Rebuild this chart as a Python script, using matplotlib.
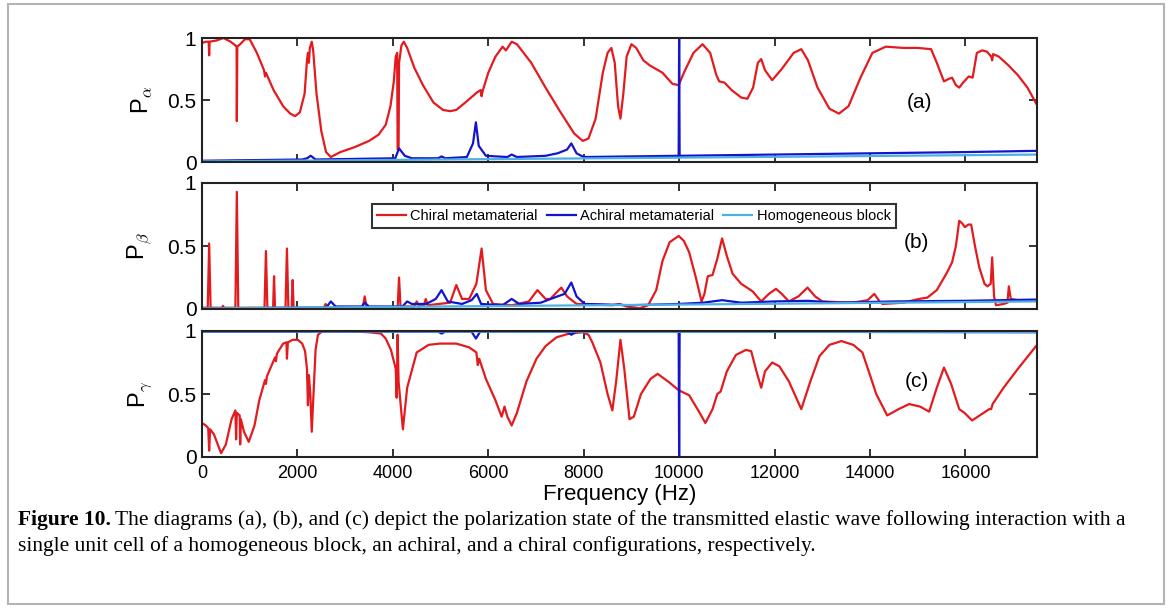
import numpy as np
import matplotlib.pyplot as plt
from matplotlib.patches import Rectangle

plt.rcParams["font.family"] = ["Liberation Sans", "DejaVu Sans"]
plt.rcParams["mathtext.fontset"] = "cm"

# ---- panel (a): P_alpha ----
chiral_a_f = [0, 80, 140, 150, 160, 300, 450, 600, 700, 725,
              730, 740, 800, 900, 1000, 1150, 1300, 1320, 1340, 1500,
              1700, 1850, 1950, 2050, 2150, 2200, 2220, 2240, 2260, 2300,
              2330, 2400, 2500, 2600, 2700, 2900, 3200, 3500, 3700, 3850,
              3950, 4020, 4060, 4090, 4100, 4120, 4130, 4180, 4230, 4300,
              4450, 4630, 4850, 5050, 5200, 5330, 5550, 5760, 5840, 5860,
              5880, 6000, 6150, 6300, 6370, 6490, 6600, 6900, 7200, 7500,
              7800, 7980, 8100, 8250, 8400, 8500, 8580, 8650, 8720, 8770,
              8830, 8900, 9000, 9100, 9250, 9380, 9650, 9860, 9990, 10100,
              10300, 10490, 10650, 10780, 10840, 10950, 11100, 11300, 11430, 11550,
              11650, 11720, 11800, 11950, 12150, 12400, 12560, 12700, 12900, 13150,
              13350, 13550, 13800, 14050, 14330, 14700, 15000, 15280, 15400, 15550,
              15650, 15720, 15800, 15870, 15950, 16070, 16150, 16240, 16350, 16450,
              16540, 16560, 16580, 16700, 16900, 17100, 17300, 17500]
chiral_a_v = [0.96, 0.97, 0.97, 0.86, 0.97, 0.98, 1.0, 0.97, 0.94, 0.93,
              0.33, 0.93, 0.95, 0.99, 0.99, 0.88, 0.74, 0.69, 0.72, 0.58,
              0.45, 0.39, 0.37, 0.40, 0.55, 0.82, 0.88, 0.80, 0.92, 0.97,
              0.90, 0.55, 0.25, 0.08, 0.04, 0.08, 0.12, 0.17, 0.22, 0.30,
              0.45, 0.65, 0.85, 0.88, 0.10, 0.10, 0.80, 0.94, 0.97, 0.92,
              0.76, 0.62, 0.48, 0.42, 0.41, 0.42, 0.49, 0.56, 0.58, 0.53,
              0.57, 0.72, 0.85, 0.93, 0.90, 0.97, 0.95, 0.80, 0.60, 0.41,
              0.23, 0.17, 0.19, 0.35, 0.72, 0.88, 0.92, 0.80, 0.45, 0.35,
              0.55, 0.85, 0.95, 0.92, 0.82, 0.78, 0.72, 0.63, 0.62, 0.72,
              0.88, 0.95, 0.88, 0.70, 0.65, 0.64, 0.58, 0.52, 0.51, 0.60,
              0.80, 0.83, 0.74, 0.66, 0.75, 0.88, 0.91, 0.82, 0.60, 0.43,
              0.39, 0.45, 0.68, 0.88, 0.93, 0.92, 0.92, 0.91, 0.80, 0.65,
              0.67, 0.68, 0.62, 0.60, 0.64, 0.69, 0.68, 0.88, 0.90, 0.89,
              0.85, 0.82, 0.87, 0.85, 0.78, 0.70, 0.60, 0.46]

achiral_a_f = [0, 2100, 2200, 2280, 2380, 4050, 4130, 4250, 4400, 4950,
               5020, 5100, 5550, 5680, 5740, 5800, 5950, 6400, 6490, 6600,
               7200, 7450, 7650, 7740, 7850, 8000, 9990, 10000, 10010, 12000,
               14000, 16000, 17500]
achiral_a_v = [0.01, 0.02, 0.03, 0.05, 0.02, 0.03, 0.11, 0.05, 0.03, 0.03,
               0.045, 0.03, 0.04, 0.15, 0.32, 0.13, 0.05, 0.04, 0.06, 0.04,
               0.05, 0.07, 0.10, 0.15, 0.07, 0.04, 0.05, 1.0, 0.05, 0.06,
               0.07, 0.08, 0.09]

homog_a_f = [0, 5000, 10000, 17500]
homog_a_v = [0.005, 0.02, 0.035, 0.06]

# ---- panel (b): P_beta ----
chiral_b_f = [0, 120, 150, 180, 420, 440, 460, 700, 730, 760,
              1310, 1340, 1370, 1490, 1510, 1530, 1750, 1780, 1810, 1880,
              1900, 1920, 2550, 2590, 2630, 3370, 3410, 3450, 4100, 4130,
              4160, 4450, 4500, 4550, 4650, 4690, 4730, 5200, 5330, 5450,
              5600, 5750, 5860, 5950, 6100, 6500, 6850, 7030, 7200, 7300,
              7530, 7650, 7850, 8600, 8750, 8900, 9170, 9350, 9520, 9650,
              9800, 9990, 10100, 10210, 10350, 10470, 10530, 10600, 10700, 10800,
              10900, 11000, 11120, 11300, 11540, 11720, 11880, 12030, 12150, 12300,
              12500, 12690, 12850, 13000, 13630, 13950, 14090, 14200, 14260, 14700,
              15030, 15200, 15400, 15600, 15720, 15800, 15870, 15930, 15990, 16060,
              16120, 16200, 16290, 16400, 16460, 16530, 16560, 16600, 16640, 16800,
              16880, 16910, 16950, 17100, 17500]
chiral_b_v = [0.01, 0.01, 0.52, 0.01, 0.01, 0.025, 0.01, 0.01, 0.93, 0.01,
              0.01, 0.46, 0.01, 0.01, 0.26, 0.01, 0.01, 0.48, 0.01, 0.01,
              0.23, 0.01, 0.01, 0.04, 0.01, 0.01, 0.10, 0.01, 0.01, 0.25,
              0.02, 0.02, 0.06, 0.02, 0.03, 0.08, 0.03, 0.05, 0.19, 0.08,
              0.08, 0.20, 0.48, 0.15, 0.04, 0.03, 0.06, 0.15, 0.08, 0.08,
              0.17, 0.10, 0.04, 0.03, 0.04, 0.02, 0.005, 0.03, 0.15, 0.38,
              0.53, 0.58, 0.54, 0.45, 0.25, 0.06, 0.12, 0.26, 0.27, 0.40,
              0.56, 0.42, 0.28, 0.20, 0.14, 0.06, 0.12, 0.16, 0.12, 0.06,
              0.10, 0.17, 0.10, 0.06, 0.05, 0.07, 0.12, 0.06, 0.04, 0.05,
              0.08, 0.09, 0.15, 0.28, 0.37, 0.50, 0.70, 0.68, 0.65, 0.67,
              0.67, 0.50, 0.33, 0.20, 0.18, 0.20, 0.41, 0.10, 0.03, 0.04,
              0.05, 0.18, 0.08, 0.07, 0.07]

achiral_b_f = [0, 2600, 2700, 2800, 3350, 3410, 3500, 4200, 4300, 4400,
               4700, 4900, 5020, 5150, 5450, 5650, 5760, 5850, 6300, 6490,
               6650, 7100, 7450, 7600, 7740, 7850, 8020, 9000, 9990, 10500,
               10900, 11300, 12000, 12700, 13300, 14500, 16000, 17500]
achiral_b_v = [0.005, 0.01, 0.06, 0.02, 0.02, 0.05, 0.02, 0.02, 0.06, 0.04,
               0.04, 0.08, 0.15, 0.06, 0.04, 0.07, 0.12, 0.04, 0.03, 0.08,
               0.04, 0.05, 0.10, 0.12, 0.21, 0.10, 0.04, 0.03, 0.04, 0.05,
               0.07, 0.05, 0.06, 0.065, 0.05, 0.06, 0.065, 0.075]

homog_b_f = [0, 5000, 10000, 17500]
homog_b_v = [0.005, 0.02, 0.035, 0.06]

# ---- panel (c): P_gamma ----
chiral_c_f = [0, 80, 130, 150, 170, 250, 400, 500, 620, 700,
              715, 730, 790, 800, 815, 880, 980, 1100, 1200, 1320,
              1340, 1360, 1530, 1550, 1570, 1700, 1770, 1780, 1800, 1900,
              2010, 2100, 2160, 2200, 2220, 2240, 2270, 2300, 2330, 2380,
              2430, 2530, 3000, 3500, 3750, 3850, 3960, 4060, 4080, 4100,
              4120, 4210, 4300, 4500, 4750, 4980, 5330, 5600, 5750, 5780,
              5810, 5950, 6150, 6280, 6340, 6400, 6490, 6600, 6800, 7010,
              7200, 7430, 7700, 7980, 8100, 8180, 8350, 8500, 8600, 8680,
              8770, 8850, 8960, 9050, 9200, 9400, 9550, 9800, 9990, 10210,
              10400, 10550, 10700, 10800, 10870, 11000, 11190, 11400, 11510, 11620,
              11720, 11800, 11950, 12100, 12300, 12560, 12750, 12940, 13150, 13400,
              13650, 13840, 14000, 14130, 14360, 14600, 14820, 15050, 15240, 15400,
              15550, 15700, 15870, 15980, 16140, 16300, 16500, 16540, 16570, 16800,
              17100, 17480]
chiral_c_v = [0.27, 0.25, 0.23, 0.05, 0.22, 0.18, 0.03, 0.10, 0.30, 0.37,
              0.14, 0.35, 0.33, 0.10, 0.30, 0.20, 0.12, 0.25, 0.45, 0.61,
              0.58, 0.64, 0.79, 0.76, 0.82, 0.90, 0.91, 0.78, 0.91, 0.93,
              0.93, 0.90, 0.84, 0.70, 0.41, 0.65, 0.50, 0.20, 0.45, 0.85,
              0.97, 1.0, 1.0, 0.99, 0.98, 0.94, 0.85, 0.70, 0.47, 0.97,
              0.60, 0.22, 0.55, 0.83, 0.89, 0.90, 0.90, 0.87, 0.83, 0.73,
              0.78, 0.62, 0.45, 0.32, 0.40, 0.32, 0.25, 0.35, 0.60, 0.78,
              0.88, 0.95, 0.98, 0.99, 0.97, 0.91, 0.75, 0.50, 0.37, 0.60,
              0.93, 0.70, 0.30, 0.32, 0.50, 0.62, 0.66, 0.59, 0.53, 0.49,
              0.37, 0.27, 0.38, 0.50, 0.52, 0.68, 0.81, 0.85, 0.84, 0.68,
              0.55, 0.68, 0.75, 0.72, 0.60, 0.38, 0.60, 0.80, 0.89, 0.92,
              0.89, 0.83, 0.65, 0.50, 0.33, 0.38, 0.42, 0.40, 0.36, 0.55,
              0.71, 0.58, 0.38, 0.35, 0.29, 0.33, 0.38, 0.38, 0.42, 0.55,
              0.70, 0.88]

achiral_c_f = [0, 4950, 5020, 5100, 5650, 5740, 5830, 7650, 7740, 7850,
               9990, 10000, 10010, 17500]
achiral_c_v = [0.995, 0.995, 0.98, 0.995, 0.995, 0.94, 0.995, 0.995, 0.97, 0.995,
               0.995, 0.0, 0.995, 0.99]

homog_c_f = [0, 17500]
homog_c_v = [0.997, 0.993]

series_names = ["Chiral metamaterial", "Achiral metamaterial", "Homogeneous block"]
panel_tags = ["(a)", "(b)", "(c)"]
ylabels = [r"P$_{\alpha}$", r"P$_{\beta}$", r"P$_{\gamma}$"]
xticks = [0, 2000, 4000, 6000, 8000, 10000, 12000, 14000, 16000]

colors = ["#e31b1f", "#1414cc", "#4cb0e4"]

W, H = 1172, 608
fig = plt.figure(figsize=(W / 100, H / 100), dpi=100)

# panel boxes in pixels (left, top, right, bottom)
boxes = [(202, 38, 1037, 162), (202, 183, 1037, 309), (202, 331, 1037, 457)]
data = [
    [(chiral_a_f, chiral_a_v), (achiral_a_f, achiral_a_v), (homog_a_f, homog_a_v)],
    [(chiral_b_f, chiral_b_v), (achiral_b_f, achiral_b_v), (homog_b_f, homog_b_v)],
    [(chiral_c_f, chiral_c_v), (achiral_c_f, achiral_c_v), (homog_c_f, homog_c_v)],
]
tag_pos = [(15030, 0.48), (14970, 0.53), (14990, 0.60)]

axes = []
for i, (l, t, r, b) in enumerate(boxes):
    ax = fig.add_axes([l / W, 1 - b / H, (r - l) / W, (b - t) / H])
    for k, (f, v) in enumerate(data[i]):
        ax.plot(f, v, color=colors[k], lw=1.6, label=series_names[k])
    ax.set_xlim(0, 17500)
    ax.set_ylim(0, 1)
    ax.set_yticks([0, 0.5, 1])
    ax.set_yticklabels(["0", "0.5", "1"])
    ax.set_xticks(xticks)
    ax.tick_params(direction="in", top=True, right=True, length=6, width=1.3,
                   color="#222222")
    ax.tick_params(axis="y", labelsize=15, pad=4)
    ax.tick_params(axis="x", labelsize=13, pad=6)
    for s in ax.spines.values():
        s.set_linewidth(1.5)
        s.set_color("#222222")
    if i < 2:
        ax.set_xticklabels([])
    ax.set_ylabel(ylabels[i], fontsize=17, rotation=90)
    ax.yaxis.set_label_coords(-0.057, 0.5)
    ax.text(*tag_pos[i], panel_tags[i], fontsize=15, ha="center", va="center")
    axes.append(ax)

axes[2].set_xlabel("Frequency (Hz)", fontsize=16, labelpad=1)

leg = axes[1].legend(loc="center", bbox_to_anchor=(0.517, 0.738), ncol=3,
                     fontsize=10.5, frameon=True, fancybox=False,
                     edgecolor="black", handlelength=2.0, handletextpad=0.3,
                     columnspacing=0.6, borderpad=0.35, borderaxespad=0)
leg.get_frame().set_linewidth(1.5)

# outer frame of the figure panel
fig.add_artist(Rectangle((8 / W, 1 - 604 / H), (1164 - 8) / W, (604 - 4) / H,
                         transform=fig.transFigure, fill=False,
                         edgecolor="#b4b4b4", lw=1.5))

# caption
cap_font = ["Liberation Serif", "DejaVu Serif"]
cap_size = 15.5
bold = fig.text(18 / W, 1 - 525 / H, "Figure 10.", fontsize=cap_size, fontweight="bold",
                family=cap_font, va="baseline")
fig.canvas.draw()
bb = bold.get_window_extent()
fig.text((bb.x1 + 4) / W, 1 - 525 / H,
         "The diagrams (a), (b), and (c) depict the polarization state of the transmitted "
         "elastic wave following interaction with a",
         fontsize=cap_size, family=cap_font, va="baseline")
fig.text(18 / W, 1 - 551 / H,
         "single unit cell of a homogeneous block, an achiral, and a chiral configurations, respectively.",
         fontsize=cap_size, family=cap_font, va="baseline")

fig.savefig("out.png", dpi=100)
